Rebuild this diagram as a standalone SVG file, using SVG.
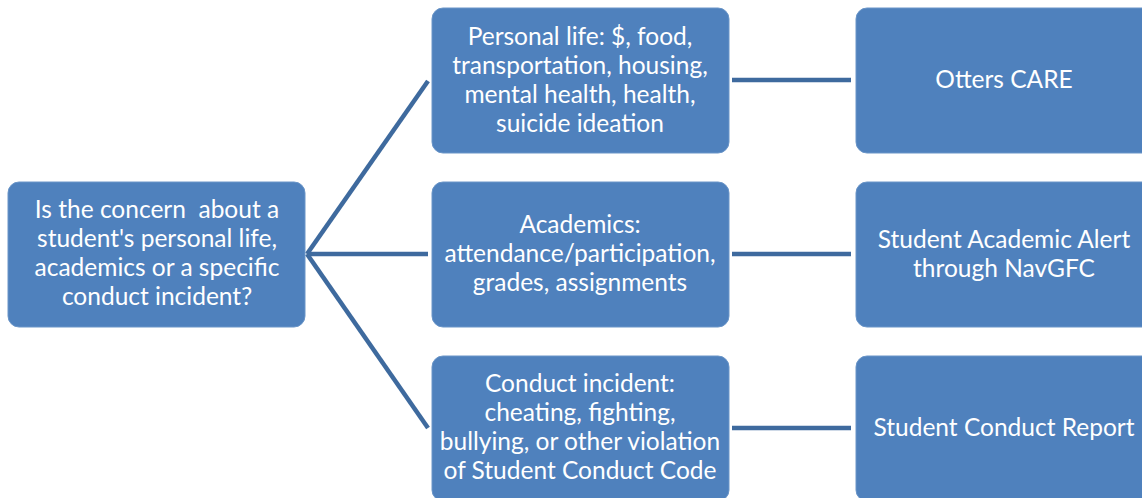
<svg xmlns="http://www.w3.org/2000/svg" width="1142" height="498" viewBox="0 0 1142 498">
  <style>
    .box { fill: #4f81bd; stroke: #6a95c8; stroke-width: 1; }
    .lbl { fill: #ffffff; font-family: Lato, "Open Sans", "Liberation Sans", sans-serif; font-size: 24.5px; text-anchor: middle; white-space: pre; }
    .link { stroke: #3e6a9e; stroke-width: 4.5; fill: none; }
  </style>
  <rect width="1142" height="498" fill="#ffffff"/>

  <!-- connectors -->
  <g id="connectors">
    <line class="link" x1="307" y1="254" x2="428" y2="81"/>
    <line class="link" x1="307" y1="254" x2="428" y2="254"/>
    <line class="link" x1="307" y1="254" x2="428" y2="428"/>
    <line class="link" x1="732" y1="80" x2="851" y2="80"/>
    <line class="link" x1="732" y1="254" x2="851" y2="254"/>
    <line class="link" x1="732" y1="428" x2="851" y2="428"/>
  </g>

  <!-- question -->
  <g id="question">
    <rect class="box" x="8" y="182" width="297" height="145" rx="11"/>
    <text class="lbl" x="157" y="218" xml:space="preserve">Is the concern  about a</text>
    <text class="lbl" x="157" y="247">student's personal life,</text>
    <text class="lbl" x="157" y="276">academics or a specific</text>
    <text class="lbl" x="157" y="305">conduct incident?</text>
  </g>

  <!-- categories -->
  <g id="personal">
    <rect class="box" x="432" y="8" width="297" height="145" rx="11"/>
    <text class="lbl" x="580" y="45">Personal life: $, food,</text>
    <text class="lbl" x="580" y="74">transportation, housing,</text>
    <text class="lbl" x="580" y="103">mental health, health,</text>
    <text class="lbl" x="580" y="132">suicide ideation</text>
  </g>
  <g id="academics">
    <rect class="box" x="432" y="182" width="297" height="145" rx="11"/>
    <text class="lbl" x="580" y="233">Academics:</text>
    <text class="lbl" x="580" y="262">attendance/participation,</text>
    <text class="lbl" x="580" y="291">grades, assignments</text>
  </g>
  <g id="conduct">
    <rect class="box" x="432" y="356" width="297" height="145" rx="11"/>
    <text class="lbl" x="580" y="392">Conduct incident:</text>
    <text class="lbl" x="580" y="421">cheating, fighting,</text>
    <text class="lbl" x="580" y="450">bullying, or other violation</text>
    <text class="lbl" x="580" y="479">of Student Conduct Code</text>
  </g>

  <!-- referral channels -->
  <g id="otters-care">
    <rect class="box" x="856" y="8" width="297" height="145" rx="11"/>
    <text class="lbl" x="1004" y="88">Otters CARE</text>
  </g>
  <g id="academic-alert">
    <rect class="box" x="856" y="182" width="297" height="145" rx="11"/>
    <text class="lbl" x="1004" y="248">Student Academic Alert</text>
    <text class="lbl" x="1004" y="277">through NavGFC</text>
  </g>
  <g id="conduct-report">
    <rect class="box" x="856" y="356" width="297" height="145" rx="11"/>
    <text class="lbl" x="1004" y="436">Student Conduct Report</text>
  </g>
</svg>
